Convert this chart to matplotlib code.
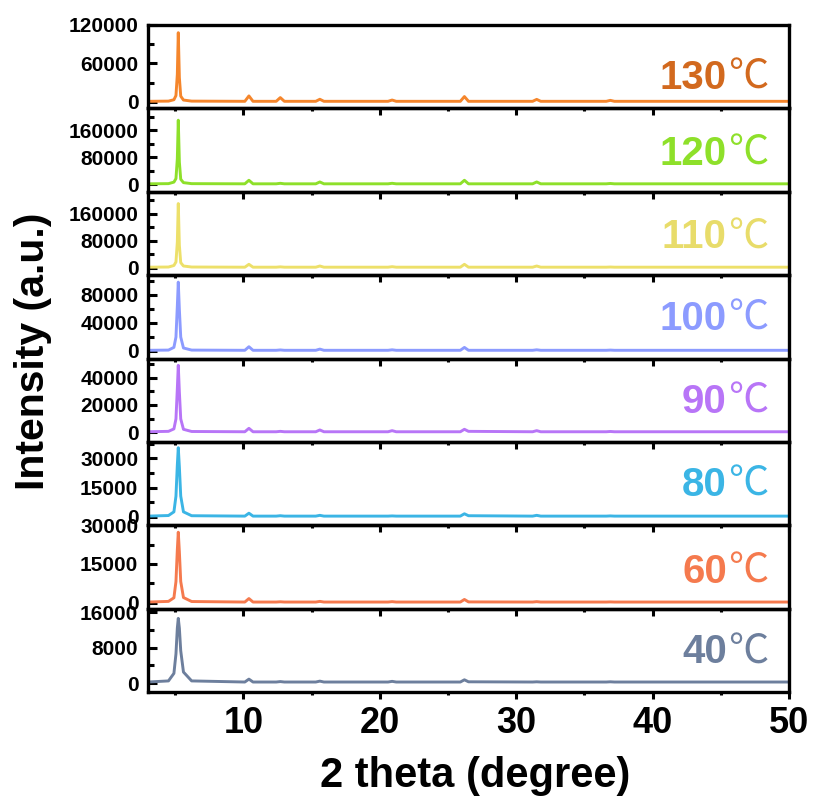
import matplotlib
matplotlib.use("Agg")
import matplotlib.pyplot as plt
from matplotlib.ticker import MultipleLocator
from matplotlib.offsetbox import TextArea, HPacker, AnchoredOffsetbox

plt.rcParams['font.family'] = ['Liberation Sans', 'DejaVu Sans']
plt.rcParams['font.weight'] = 'bold'

# 2theta points (main peak + small reflections)
two_theta = [3.0, 4.5, 4.9, 5.05, 5.15, 5.22, 5.3, 5.4, 5.6, 6.2,
             10.1, 10.4, 10.7, 12.4, 12.7, 13.0, 15.3, 15.6, 15.9,
             20.6, 20.9, 21.2, 25.9, 26.2, 26.5, 31.2, 31.5, 31.8,
             36.6, 36.9, 37.2, 50.0]

i_130 = [1000, 1300, 3500, 10000, 43000, 108000, 38000, 9000, 3000, 1300,
         1000, 9400, 1000, 1000, 6800, 1000, 1000, 4200, 1000,
         1000, 3000, 1000, 1000, 8400, 1000, 1000, 4000, 1000,
         1000, 2500, 1000, 1000]
i_120 = [1500, 2000, 6500, 17000, 76000, 190000, 66000, 15000, 5000, 2000,
         1500, 12000, 1500, 1500, 3000, 1500, 1500, 7000, 1500,
         1500, 3000, 1500, 1500, 12000, 1500, 1500, 7000, 1500,
         1500, 2500, 1500, 1500]
i_110 = [1500, 2000, 6500, 17000, 76000, 190000, 66000, 15000, 5000, 2000,
         1500, 10000, 1500, 1500, 2500, 1500, 1500, 5000, 1500,
         1500, 3000, 1500, 1500, 10000, 1500, 1500, 5000, 1500,
         1500, 2000, 1500, 1500]
i_100 = [700, 1000, 4900, 19600, 63700, 98000, 58800, 19600, 4000, 1000,
         700, 5800, 700, 700, 1200, 700, 700, 2400, 700,
         700, 1400, 700, 700, 4800, 700, 700, 1400, 700,
         700, 1000, 700, 700]
i_90 = [400, 700, 2500, 9800, 31900, 49000, 29400, 9800, 2200, 600,
        400, 2900, 400, 400, 700, 400, 400, 1700, 400,
        400, 1200, 400, 400, 2200, 700, 400, 1200, 400,
        400, 600, 400, 400]
i_80 = [300, 600, 2500, 10600, 26600, 35500, 25600, 10600, 2500, 500,
        300, 1800, 300, 300, 500, 300, 300, 700, 300,
        300, 400, 300, 300, 1500, 500, 300, 700, 300,
        300, 400, 300, 300]
i_60 = [250, 500, 1900, 8200, 20500, 27300, 19700, 8200, 2000, 450,
        250, 1600, 250, 250, 350, 250, 250, 500, 250,
        250, 400, 250, 250, 1250, 300, 250, 400, 250,
        250, 300, 250, 250]
i_40 = [250, 500, 2200, 6600, 12400, 14600, 12400, 7300, 2500, 500,
        250, 900, 250, 250, 350, 250, 250, 450, 250,
        250, 400, 250, 250, 750, 300, 250, 300, 250,
        250, 300, 250, 250]

temps = ['130', '120', '110', '100', '90', '80', '60', '40']
patterns = [i_130, i_120, i_110, i_100, i_90, i_80, i_60, i_40]
y_limits = [(-10000, 120000), (-22000, 225000), (-22000, 225000), (-11000, 108000),
            (-7000, 54000), (-4400, 38500), (-2300, 30000), (-2000, 16800)]
y_major = [[0, 60000, 120000], [0, 80000, 160000], [0, 80000, 160000], [0, 40000, 80000],
           [0, 20000, 40000], [0, 15000, 30000], [0, 15000, 30000], [0, 8000, 16000]]

line_colors = ['#F5862C', '#8EE02A', '#EDE06A', '#8C9BFF', '#B875F7', '#3BB5E5', '#F57A4E', '#6D7F9D']
text_colors = ['#D2691E', '#8EE02A', '#E8DC6A', '#8C9BFF', '#B875F7', '#3BB5E5', '#F57A4E', '#6D7F9D']
label_y = [0.37, 0.46, 0.46, 0.48, 0.49, 0.49, 0.45, 0.48]

fig, axes = plt.subplots(8, 1, figsize=(8.16, 7.97), dpi=100, sharex=True)
fig.subplots_adjust(left=148/816, right=789/816, top=1-25/797, bottom=1-692/797, hspace=0)

for k, ax in enumerate(axes):
    ax.set_facecolor('none')
    ax.plot(two_theta, patterns[k], color=line_colors[k], lw=2.1)
    ax.set_xlim(3, 50)
    ax.set_ylim(*y_limits[k])
    ax.set_yticks(y_major[k])
    ax.yaxis.set_minor_locator(MultipleLocator(y_major[k][1] / 2))
    ax.ticklabel_format(axis='y', style='plain', useOffset=False)
    ax.xaxis.set_major_locator(MultipleLocator(10))
    ax.xaxis.set_minor_locator(MultipleLocator(5))
    for s in ax.spines.values():
        s.set_linewidth(2.4)
    ax.tick_params(axis='y', which='major', direction='in', length=6.5, width=2.2,
                   labelsize=15, pad=7, left=True, right=False)
    ax.tick_params(axis='y', which='minor', direction='in', length=4, width=2.2,
                   left=True, right=False)
    ax.tick_params(axis='x', which='major', direction='out', length=5, width=2.2,
                   labelsize=26, pad=5, top=False)
    ax.tick_params(axis='x', which='minor', direction='out', length=2.5, width=2.2, top=False)
    for lab in ax.get_yticklabels():
        lab.set_fontweight('bold')

    digits = TextArea(temps[k], textprops=dict(color=text_colors[k], size=29, weight='bold'))
    deg = TextArea('℃', textprops=dict(color=text_colors[k], size=29, weight='normal',
                                         family=['Noto Sans CJK SC', 'DejaVu Sans']))
    box = HPacker(children=[digits, deg], align='baseline', pad=0, sep=1)
    anchored = AnchoredOffsetbox(loc='center right', child=box, pad=0, borderpad=0, frameon=False,
                                 bbox_to_anchor=(0.968, label_y[k]), bbox_transform=ax.transAxes)
    ax.add_artist(anchored)

for lab in axes[-1].get_xticklabels():
    lab.set_fontweight('bold')

fig.text(475/816, 1-787/797, '2 theta (degree)', ha='center', va='baseline', fontsize=30, fontweight='bold')
fig.text(33/816, 1-351/797, 'Intensity (a.u.)', ha='center', va='center', rotation=90,
         fontsize=29.5, fontweight='bold')

fig.savefig('out.png', dpi=100, facecolor='white')
